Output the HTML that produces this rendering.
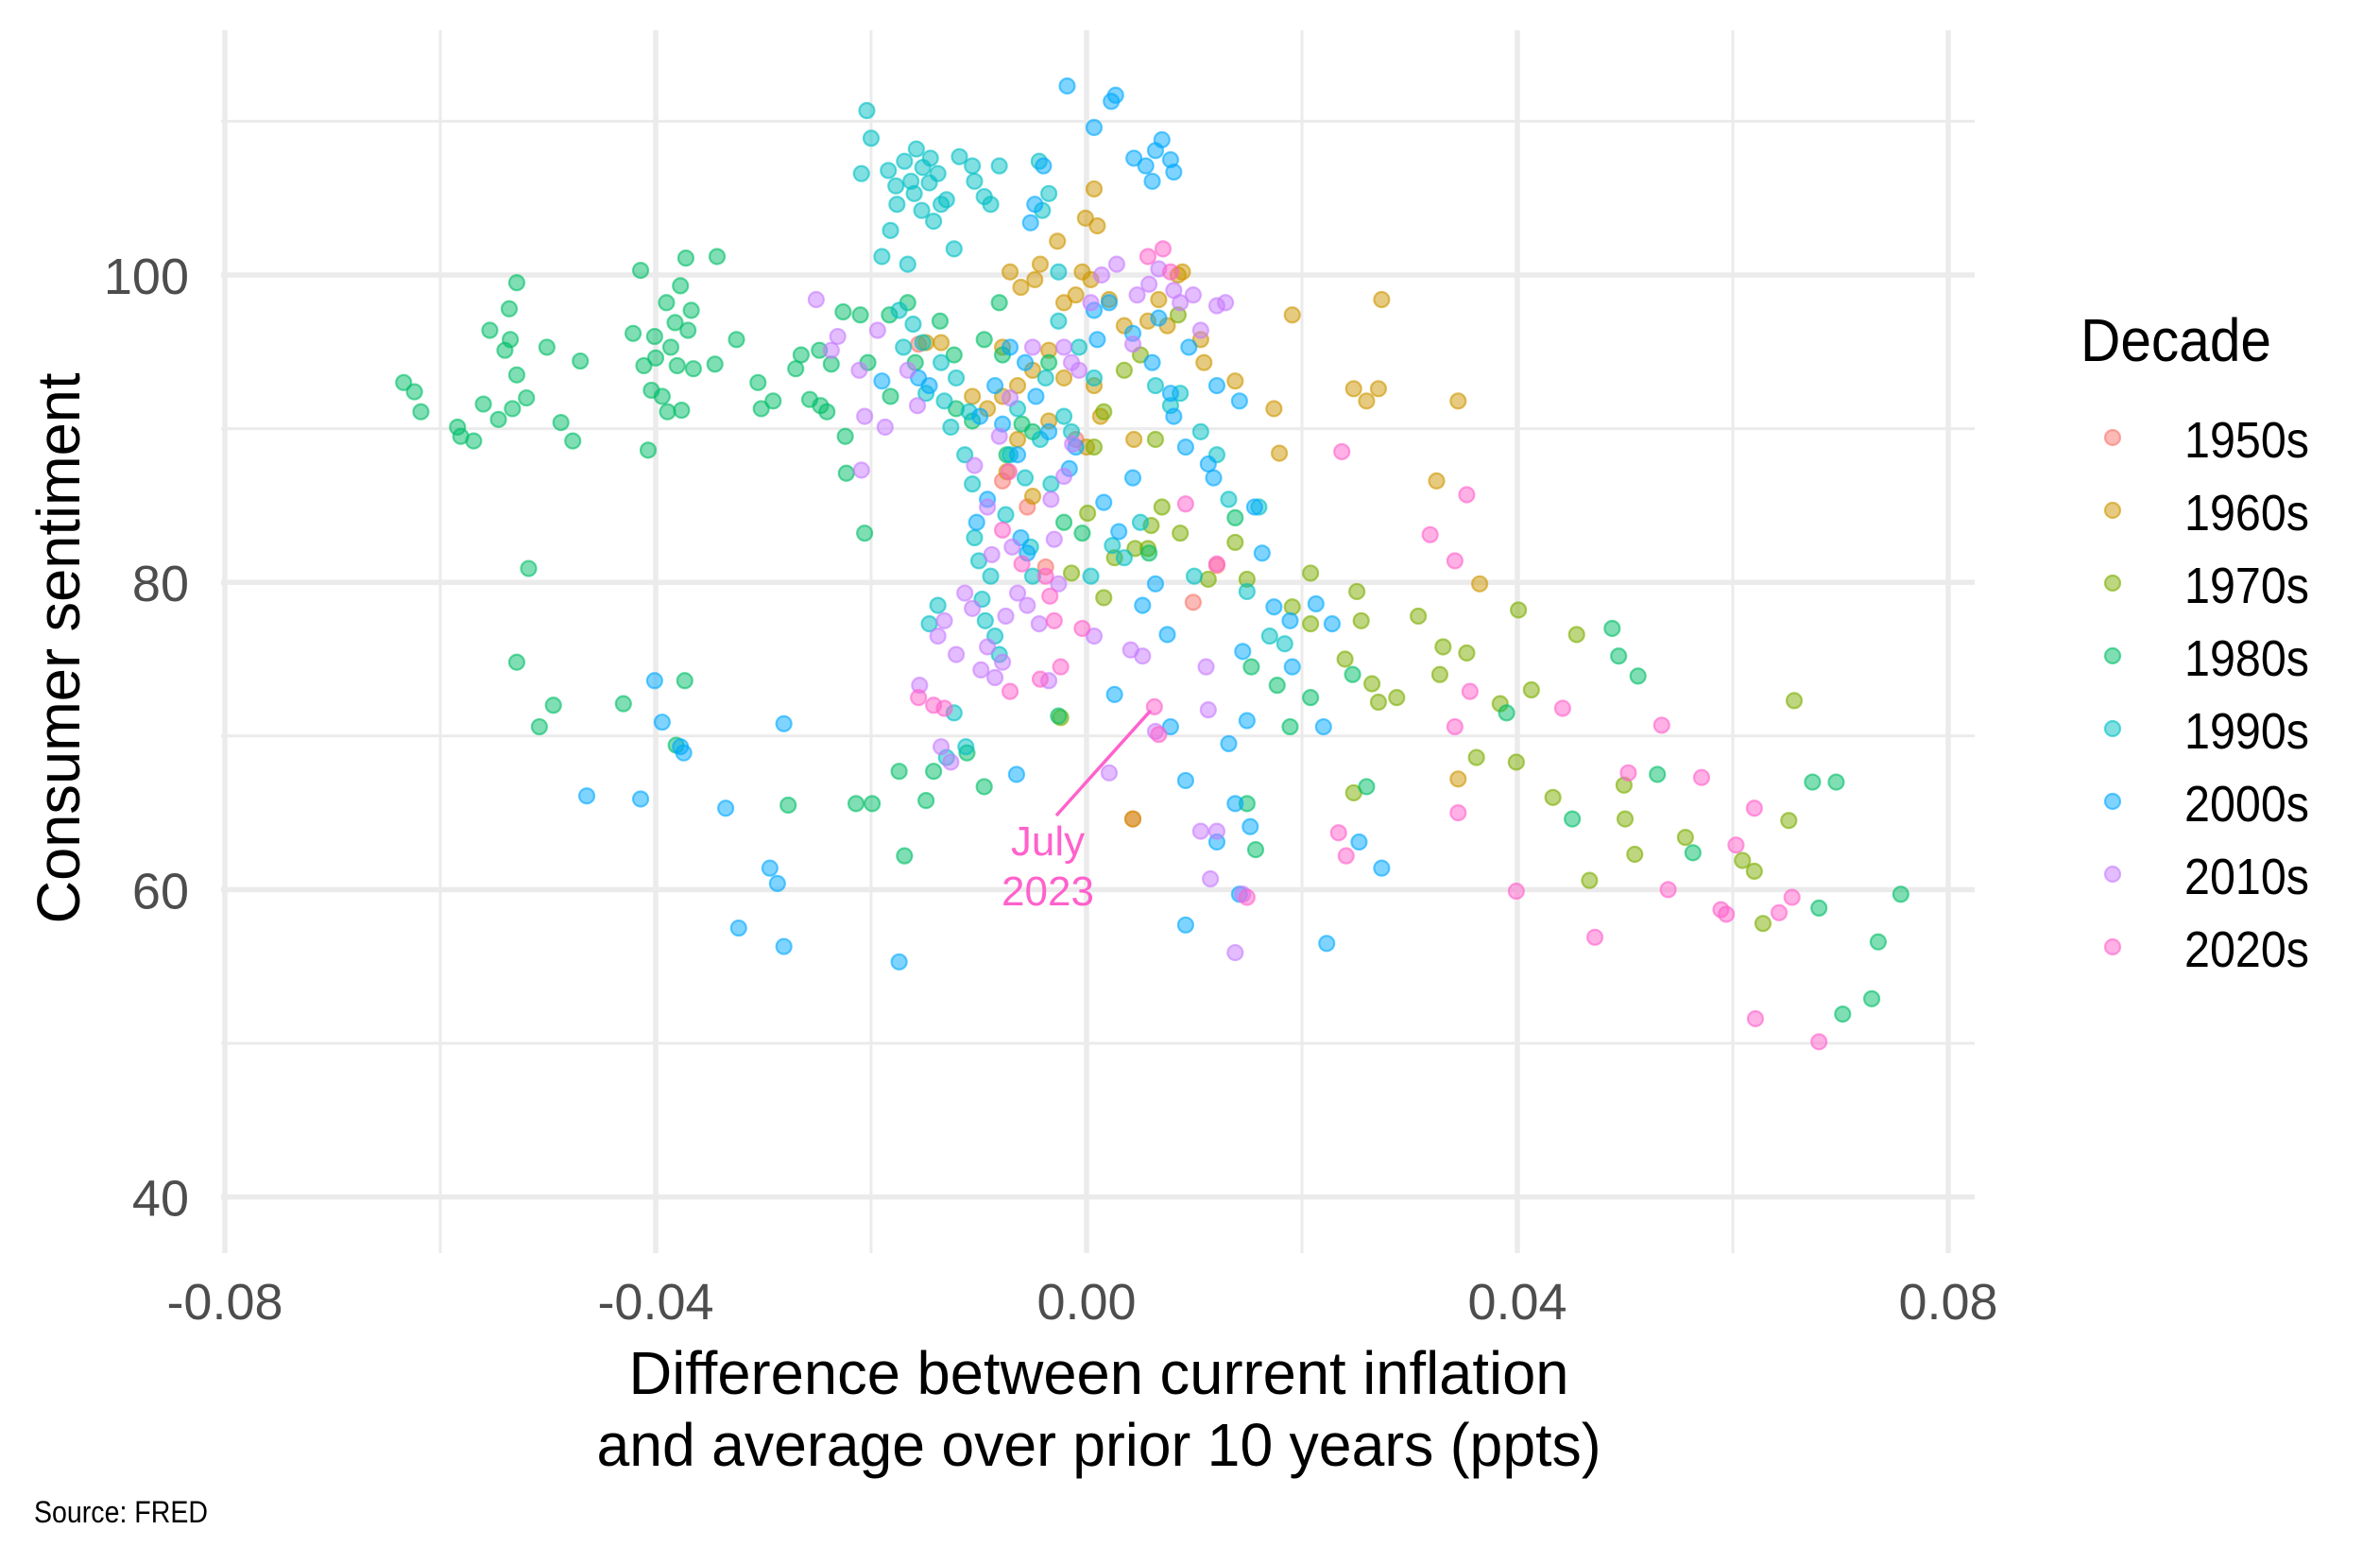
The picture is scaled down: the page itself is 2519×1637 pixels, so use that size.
<!DOCTYPE html>
<html>
<head>
<meta charset="utf-8">
<style>
html,body{margin:0;padding:0;background:#fff;}
svg{display:block;}
.tick{font-family:"Liberation Sans Narrow","Liberation Sans",sans-serif;fill:#4d4d4d;font-size:54px;}
.title{font-family:"Liberation Sans Narrow","Liberation Sans",sans-serif;fill:#000;font-size:64px;}
</style>
</head>
<body>
<svg id="chart" width="2519" height="1637" viewBox="0 0 2519 1637" xmlns="http://www.w3.org/2000/svg">
  <g id="grid"></g>
  <g id="points"></g>
  <g id="annot"></g>
  <g id="axes"></g>
  <text class="title" transform="translate(84,686) rotate(-90)" text-anchor="middle" textLength="583" lengthAdjust="spacingAndGlyphs">Consumer sentiment</text>
  <text class="title" x="1163" y="1475" text-anchor="middle" textLength="995" lengthAdjust="spacingAndGlyphs">Difference between current inflation</text>
  <text class="title" x="1163" y="1551" text-anchor="middle" textLength="1063" lengthAdjust="spacingAndGlyphs">and average over prior 10 years (ppts)</text>
  <text x="36" y="1611" font-family="Liberation Sans Narrow, Liberation Sans, sans-serif" font-size="32" fill="#000" textLength="184" lengthAdjust="spacingAndGlyphs">Source: FRED</text>
  <g id="legend">
    <text class="title" x="2202" y="382" font-size="64" textLength="202" lengthAdjust="spacingAndGlyphs">Decade</text>
  </g>
</svg>
<script>
// ---- data ----
const decades = ["1950s","1960s","1970s","1980s","1990s","2000s","2010s","2020s"];
const colors = ["#F8766D","#CD9600","#7CAE00","#00BE67","#00BFC4","#00A9FF","#C77CFF","#FF61CC"];
const xTicks = [-0.08,-0.04,0.00,0.04,0.08];
const xTickLabels = ["-0.08","-0.04","0.00","0.04","0.08"];
const yTicks = [40,60,80,100];
const yTickLabels = ["40","60","80","100"];
const xMinor = [-0.06,-0.02,0.02,0.06];
const yMinor = [50,70,90,110];

const x1950 = [-0.0156,-0.0078,-0.0055,-0.0038,0.0121,0.0099,0.0043,-0.0010];
const y1950 = [95.5,86.6,84.9,81.0,81.1,78.7,64.6,89.3];

const x1960 = [-0.0071,-0.0061,-0.0048,-0.0043,-0.0027,-0.0004,-0.0001,0.0004,0.0010,0.0007,-0.0010,0.0021,0.0085,0.0089,0.0067,0.0106,0.0109,0.0138,0.0174,0.0179,0.0191,0.0248,0.0260,0.0271,0.0274,0.0325,0.0345,0.0365,0.0345,0.0043,-0.0021,-0.0035,-0.0050,-0.0064,-0.0078,-0.0092,-0.0106,-0.0135,-0.0149,-0.0021,0.0035,0.0057,0.0075,0.0044,0.0013,0.0000,0.0007,-0.0035,-0.0064,-0.0074,-0.0050,-0.0078];
const y1960 = [100.2,99.2,99.7,100.7,102.2,100.2,103.7,99.7,103.2,105.6,98.7,98.4,100.0,100.2,98.4,95.8,94.3,93.1,91.3,88.4,97.4,92.6,91.8,92.6,98.4,86.6,91.8,79.9,67.2,64.6,93.3,95.1,93.8,92.8,92.1,91.3,92.1,95.6,95.6,98.2,96.7,97.0,96.7,89.3,90.8,88.8,92.8,90.5,89.3,87.2,85.6,95.3];

const x1970 = [0.0007,0.0016,0.0035,0.0050,0.0064,0.0060,0.0070,0.0087,0.0085,0.0045,0.0057,0.0026,0.0016,-0.0024,0.0001,-0.0014,0.0113,0.0149,0.0138,0.0191,0.0208,0.0208,0.0240,0.0251,0.0255,0.0248,0.0265,0.0271,0.0288,0.0308,0.0328,0.0331,0.0353,0.0362,0.0384,0.0399,0.0401,0.0413,0.0433,0.0455,0.0467,0.0499,0.0500,0.0509,0.0556,0.0609,0.0620,0.0628,0.0652,0.0657];
const y1970 = [88.8,91.1,93.8,94.8,89.3,83.7,84.9,83.2,97.4,82.2,82.2,81.6,79.0,71.2,84.5,80.6,80.2,80.2,82.6,78.4,80.6,77.3,75.0,79.4,77.5,66.3,73.4,72.2,72.5,77.8,74.0,75.8,75.4,68.6,72.1,68.3,78.2,73.0,66.0,76.6,60.6,66.8,64.6,62.3,63.4,61.9,61.2,57.8,64.5,72.3];

const x1980 = [-0.0634,-0.0624,-0.0618,-0.0584,-0.0581,-0.0569,-0.0560,-0.0554,-0.0546,-0.0540,-0.0536,-0.0535,-0.0533,-0.0529,-0.0529,-0.0520,-0.0518,-0.0529,-0.0508,-0.0501,-0.0495,-0.0488,-0.0477,-0.0470,-0.0430,-0.0421,-0.0414,-0.0411,-0.0407,-0.0404,-0.0401,-0.0400,-0.0394,-0.0390,-0.0389,-0.0386,-0.0382,-0.0381,-0.0380,-0.0377,-0.0376,-0.0373,-0.0372,-0.0370,-0.0367,-0.0365,-0.0345,-0.0343,-0.0325,-0.0305,-0.0302,-0.0291,-0.0277,-0.0270,-0.0265,-0.0257,-0.0248,-0.0247,-0.0241,-0.0237,-0.0226,-0.0224,-0.0223,-0.0214,-0.0210,-0.0206,-0.0203,-0.0199,-0.0183,-0.0182,-0.0174,-0.0169,-0.0166,-0.0159,-0.0149,-0.0142,-0.0136,-0.0123,-0.0121,-0.0111,-0.0106,-0.0095,-0.0095,-0.0081,-0.0078,-0.0074,-0.0060,-0.0050,-0.0035,-0.0026,-0.0021,-0.0004,0.0058,0.0138,0.0149,0.0157,0.0153,0.0177,0.0189,0.0208,0.0247,0.0260,0.0390,0.0451,0.0488,0.0494,0.0512,0.0530,0.0563,0.0674,0.0680,0.0696,0.0702,0.0729,0.0735,0.0756];
const y1980 = [93.0,92.4,91.1,90.1,89.5,89.2,91.6,96.4,90.6,95.1,97.8,95.8,91.3,99.5,93.5,92.0,80.9,74.8,70.6,95.3,72.0,90.4,89.2,94.4,72.1,96.2,100.3,94.1,88.6,92.5,96.0,94.6,92.1,98.2,91.1,95.3,96.9,69.4,94.1,99.3,91.2,73.6,101.1,96.4,97.7,93.9,94.2,101.2,95.8,93.0,91.3,91.8,65.5,93.9,94.8,91.9,95.1,91.5,91.1,94.2,97.6,89.5,87.1,65.6,97.4,83.2,94.3,65.6,97.4,92.1,67.7,62.2,98.2,94.3,65.8,67.7,97.0,94.8,91.3,68.9,90.5,95.8,66.7,98.2,94.8,88.3,90.3,89.8,94.3,71.3,83.9,83.2,81.9,84.2,65.6,62.6,74.5,73.3,70.6,72.5,74.0,66.7,71.5,64.6,77.0,75.2,73.9,67.5,62.4,67.0,58.8,67.0,51.9,52.9,56.6,59.7];

const x1990 = [-0.0204,-0.0200,-0.0209,-0.0190,-0.0184,-0.0182,-0.0177,-0.0176,-0.0169,-0.0166,-0.0163,-0.0160,-0.0158,-0.0153,-0.0152,-0.0146,-0.0145,-0.0142,-0.0138,-0.0135,-0.0130,-0.0123,-0.0118,-0.0106,-0.0104,-0.0095,-0.0089,-0.0081,-0.0044,-0.0041,-0.0035,-0.0026,-0.0026,-0.0174,-0.0170,-0.0161,-0.0152,-0.0149,-0.0135,-0.0132,-0.0126,-0.0121,-0.0113,-0.0109,-0.0106,-0.0104,-0.0100,-0.0097,-0.0094,-0.0089,-0.0085,-0.0081,-0.0075,-0.0071,-0.0064,-0.0057,-0.0052,-0.0050,-0.0043,-0.0038,-0.0033,-0.0021,-0.0014,-0.0007,0.0004,0.0024,0.0035,0.0050,-0.0146,-0.0138,-0.0130,-0.0112,-0.0123,0.0007,0.0064,0.0078,0.0087,0.0100,0.0106,0.0121,0.0132,0.0149,0.0160,0.0170,0.0184];
const y1990 = [110.7,108.9,106.6,101.2,106.8,102.9,105.8,104.6,107.4,100.7,106.1,105.3,108.2,104.2,107.0,106.0,107.6,103.5,106.6,104.6,104.9,101.7,107.7,107.1,106.1,105.1,104.6,107.1,107.4,104.2,105.3,100.2,97.0,97.7,95.3,96.8,95.6,92.3,94.3,91.8,90.1,93.3,88.3,91.1,86.4,82.9,81.4,78.9,77.5,80.4,76.5,75.3,84.4,88.3,91.3,86.8,82.3,80.4,89.3,93.3,86.4,90.8,89.8,95.3,80.4,82.4,81.6,83.9,77.3,78.5,68.6,69.3,71.5,93.3,92.8,91.5,92.3,80.4,89.8,88.3,85.4,79.4,84.9,76.5,76.0];

const x2000 = [-0.0018,0.0007,0.0023,0.0027,0.0044,0.0055,0.0061,0.0064,0.0070,0.0078,0.0081,-0.0040,-0.0048,-0.0052,0.0007,0.0021,0.0010,0.0043,0.0061,0.0067,0.0078,0.0081,0.0092,0.0095,0.0113,0.0118,0.0121,0.0142,0.0156,0.0163,0.0174,0.0189,0.0191,0.0220,0.0228,0.0223,0.0253,0.0274,0.0145,0.0149,0.0132,0.0138,0.0152,0.0142,0.0092,0.0078,0.0092,0.0121,0.0075,0.0052,0.0064,0.0026,0.0043,0.0016,0.0030,-0.0016,-0.0010,-0.0035,-0.0047,-0.0057,-0.0071,-0.0085,-0.0078,-0.0064,-0.0099,-0.0092,-0.0061,-0.0055,-0.0102,-0.0146,-0.0156,-0.0190,-0.0401,-0.0394,-0.0377,-0.0374,-0.0464,-0.0414,-0.0335,-0.0323,-0.0294,-0.0287,-0.0281,-0.0281,-0.0174,-0.0065,0.0213];
const y2000 = [112.3,109.6,111.3,111.7,107.6,107.1,106.1,108.1,108.8,107.5,106.7,107.1,104.6,103.4,97.7,98.2,95.8,96.2,94.3,97.2,92.3,90.8,88.8,95.3,87.7,86.8,92.8,91.8,84.9,81.9,78.4,77.5,74.5,70.6,77.3,56.5,63.1,61.4,75.5,71.0,69.5,65.6,64.1,59.7,57.7,70.6,67.1,63.1,76.6,78.5,79.9,72.7,86.8,85.2,83.3,87.4,88.8,89.8,92.1,94.3,95.3,92.8,90.3,88.3,90.8,85.4,82.9,81.9,83.9,92.8,93.3,93.1,73.6,70.9,69.3,68.9,66.1,65.9,65.3,57.5,61.4,60.4,56.3,70.8,55.3,67.5,78.6];

const x2010 = [-0.0251,-0.0231,-0.0237,-0.0211,-0.0206,-0.0209,-0.0194,-0.0187,-0.0166,-0.0157,-0.0155,-0.0135,-0.0126,-0.0138,-0.0132,-0.0121,-0.0113,-0.0106,-0.0098,-0.0092,-0.0088,-0.0085,-0.0078,-0.0075,-0.0069,-0.0064,-0.0055,-0.0044,-0.0035,-0.0030,-0.0026,-0.0033,-0.0092,-0.0081,-0.0071,-0.0050,-0.0021,-0.0014,-0.0007,0.0004,0.0014,0.0028,0.0047,0.0058,0.0067,0.0081,0.0087,0.0099,0.0106,0.0121,0.0129,0.0043,0.0041,0.0052,0.0021,0.0064,0.0106,0.0115,0.0121,0.0111,0.0113,0.0138,0.0145,-0.0013,-0.0021,-0.0104,0.0007];
const y2010 = [98.4,96.0,95.1,93.8,90.8,87.3,96.4,90.1,93.8,91.5,73.3,69.3,68.3,76.5,77.5,75.3,79.3,78.3,74.3,75.8,81.8,73.8,74.8,77.8,82.3,79.3,78.5,77.3,73.6,82.8,79.9,85.4,84.9,89.5,92.0,95.3,95.3,94.3,93.8,98.2,100.0,100.7,98.7,99.4,100.4,99.0,98.2,98.7,96.4,98.0,98.2,95.5,75.6,75.2,67.6,70.3,63.8,60.7,63.8,74.5,71.7,55.9,59.7,89.0,86.9,87.6,76.5];

const x2020 = [-0.0156,-0.0142,-0.0132,-0.0078,-0.0072,-0.0060,-0.0038,-0.0034,-0.0030,-0.0004,-0.0024,-0.0043,-0.0071,0.0057,0.0071,0.0078,0.0063,0.0067,0.0092,0.0121,0.0149,0.0237,0.0234,0.0241,0.0319,0.0342,0.0353,0.0356,0.0342,0.0345,0.0399,0.0442,0.0472,0.0503,0.0534,0.0540,0.0571,0.0589,0.0594,0.0603,0.0620,0.0621,0.0643,0.0655,0.0680];
const y2020 = [72.5,72.0,71.8,83.4,87.2,81.2,80.4,79.1,77.5,77.0,74.5,73.7,72.9,101.2,101.7,100.2,71.9,70.1,85.1,81.2,59.5,88.5,63.7,62.2,83.1,81.4,85.7,72.9,70.6,65.0,59.9,71.8,56.9,67.6,70.7,60.0,67.3,58.7,58.4,62.9,65.3,51.6,58.5,59.5,50.1];

const annotX = 0.0063;
const annotY = 71.9;

// ---- scales ----
const NS = "http://www.w3.org/2000/svg";
function sx(v){ return 1150 + v*11400; }
function sy(v){ return 291 + (100 - v)*16.26; }
function mk(tag, attrs, parent){
  const e = document.createElementNS(NS, tag);
  for (const k in attrs) e.setAttribute(k, attrs[k]);
  parent.appendChild(e);
  return e;
}
const grid = document.getElementById('grid');
const pLeft = 234, pRight = 2090, pTop = 32, pBottom = 1326;
xMinor.forEach(v => {
  const l = mk('line', {x1:sx(v), x2:sx(v), y1:pTop, y2:pBottom, stroke:'#ebebeb', 'stroke-width':3}, grid);
  
  
});
yMinor.forEach(v => {
  const l = mk('line', {x1:pLeft, x2:pRight, y1:sy(v), y2:sy(v), stroke:'#ebebeb', 'stroke-width':3}, grid);
  
  
});
xTicks.forEach(v => {
  const l = mk('line', {x1:sx(v), x2:sx(v), y1:pTop, y2:pBottom, stroke:'#ebebeb', 'stroke-width':5.5}, grid);
  
  
});
yTicks.forEach(v => {
  const l = mk('line', {x1:pLeft, x2:pRight, y1:sy(v), y2:sy(v), stroke:'#ebebeb', 'stroke-width':5.5}, grid);
  
  
});

const axes = document.getElementById('axes');
xTicks.forEach((v,i) => {
  const t = mk('text', {x:sx(v), y:1396, 'text-anchor':'middle', class:'tick'}, axes);
  t.textContent = xTickLabels[i];
  
  
});
yTicks.forEach((v,i) => {
  const t = mk('text', {x:200, y:sy(v)+20, 'text-anchor':'end', class:'tick'}, axes);
  t.textContent = yTickLabels[i];
  
  
});

// ---- points ----
const seriesX = [x1950,x1960,x1970,x1980,x1990,x2000,x2010,x2020];
const seriesY = [y1950,y1960,y1970,y1980,y1990,y2000,y2010,y2020];
const pts = document.getElementById('points');
seriesX.forEach((xs, s) => {
  const g = mk('g', {}, pts);
  
  
  xs.forEach((xv, i) => {
    const c = mk('circle', {cx:sx(xv), cy:sy(seriesY[s][i]), r:8, fill:colors[s], 'fill-opacity':0.5, stroke:colors[s], 'stroke-opacity':0.6, 'stroke-width':2.2}, g);
    
    
  });
});

// ---- annotation ----
const an = document.getElementById('annot');
const al = mk('line', {x1:1118, y1:863, x2:sx(annotX)-4, y2:sy(annotY)+4, stroke:'#FF61CC', 'stroke-width':3.5}, an);


const t1 = mk('text', {x:1109, y:905, 'text-anchor':'middle', 'font-family':'Liberation Sans, sans-serif', 'font-size':44, fill:'#FF61CC'}, an);
t1.textContent = 'July';


const t2 = mk('text', {x:1109, y:958, 'text-anchor':'middle', 'font-family':'Liberation Sans, sans-serif', 'font-size':44, fill:'#FF61CC'}, an);
t2.textContent = '2023';



// ---- legend ----
const lg = document.getElementById('legend');
decades.forEach((d, i) => {
  const g = mk('g', {}, lg);
  
  
  const c = mk('circle', {cx:2236, cy:463 + i*77, r:8, fill:colors[i], 'fill-opacity':0.5, stroke:colors[i], 'stroke-opacity':0.6, 'stroke-width':2.2}, g);
  
  
  const t = mk('text', {x:2312, y:484 + i*77, 'font-family':'Liberation Sans Narrow, Liberation Sans, sans-serif', 'font-size':54, fill:'#000', textLength:132, lengthAdjust:'spacingAndGlyphs'}, g);
  t.textContent = d;
  
  
});
</script>
</body>
</html>
